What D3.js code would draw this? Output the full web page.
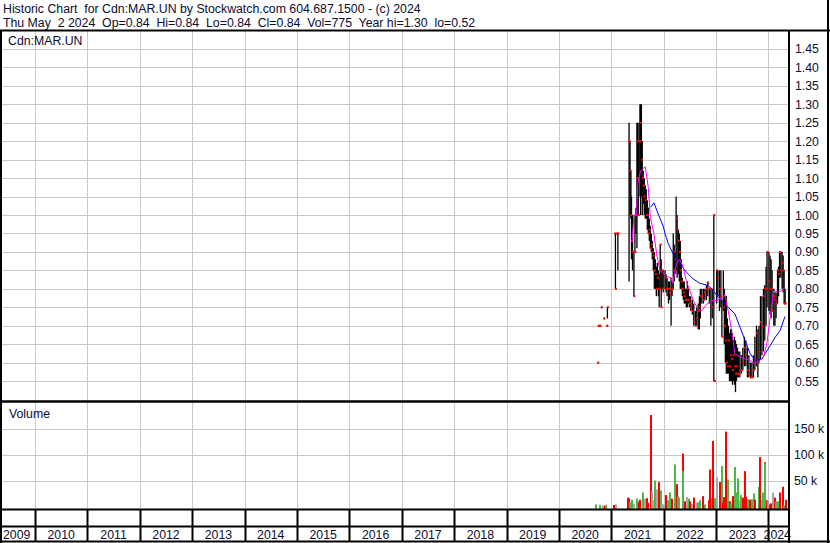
<!DOCTYPE html>
<html><head><meta charset="utf-8">
<script src="https://cdn.jsdelivr.net/npm/d3@7"></script>
<style>
html,body{margin:0;padding:0;background:#fff;}
svg text{font-family:"Liberation Sans",Arial,sans-serif;fill:#0c0c30;white-space:pre;}
</style></head><body>
<svg id="c" width="830" height="543"></svg>
<script>
// ---------- data ----------
const titleLine1 = "Historic Chart  for Cdn:MAR.UN by Stockwatch.com 604.687.1500 - (c) 2024";
const titleLine2 = "Thu May  2 2024  Op=0.84  Hi=0.84  Lo=0.84  Cl=0.84  Vol=775  Year hi=1.30  lo=0.52";
const symbolLabel = "Cdn:MAR.UN";
const volumeLabel = "Volume";
const yearLabels = ["2009","2010","2011","2012","2013","2014","2015","2016","2017","2018","2019","2020","2021","2022","2023","2024"];
const priceTicks = [0.55,0.60,0.65,0.70,0.75,0.80,0.85,0.90,0.95,1.00,1.05,1.10,1.15,1.20,1.25,1.30,1.35,1.40,1.45];
const volumeTicks = [50000,100000,150000];

const barDates = ["2020-09-28","2020-10-02","2020-10-13","2020-10-23","2020-11-10","2020-11-30","2020-12-04",
"2021-01-25","2021-01-29","2021-02-08","2021-02-15",
"2021-05-04","2021-05-11","2021-05-17","2021-05-21","2021-05-28","2021-06-07","2021-06-14","2021-06-21","2021-06-28",
"2021-07-02","2021-07-07","2021-07-12","2021-07-19","2021-07-23","2021-07-29","2021-08-04","2021-08-11","2021-08-18","2021-08-25",
"2021-09-01","2021-09-08","2021-09-15","2021-09-22","2021-09-29","2021-10-06","2021-10-13","2021-10-20","2021-10-27",
"2021-11-03","2021-11-10","2021-11-17","2021-11-24","2021-11-30","2021-12-07","2021-12-14","2021-12-21","2021-12-28",
"2022-01-10","2022-01-17","2022-01-24","2022-02-03","2022-02-10","2022-02-21","2022-02-28","2022-03-08","2022-03-15","2022-03-22","2022-03-28",
"2022-04-04","2022-04-13","2022-04-19","2022-04-26","2022-05-03","2022-05-10","2022-05-17","2022-05-24","2022-05-31",
"2022-06-07","2022-06-14","2022-06-21","2022-06-28","2022-07-08","2022-07-19","2022-07-29","2022-08-09","2022-08-19","2022-08-29",
"2022-09-06","2022-09-13","2022-09-23","2022-10-04","2022-10-14","2022-10-25","2022-11-04","2022-11-15","2022-11-25","2022-12-05","2022-12-16","2022-12-20",
"2023-01-05","2023-01-13","2023-01-24","2023-02-03","2023-02-10","2023-02-20","2023-02-27","2023-03-06","2023-03-13","2023-03-20","2023-03-27",
"2023-04-04","2023-04-11","2023-04-18","2023-04-25","2023-05-02","2023-05-09","2023-05-16","2023-05-23","2023-05-30",
"2023-06-06","2023-06-15","2023-06-26","2023-07-06","2023-07-17","2023-07-27","2023-08-07","2023-08-17","2023-08-28",
"2023-09-07","2023-09-18","2023-09-28","2023-10-09","2023-10-19","2023-10-27","2023-11-06","2023-11-16","2023-11-27",
"2023-12-06","2023-12-15","2023-12-22",
"2024-01-04","2024-01-12","2024-01-19","2024-01-26","2024-02-07","2024-02-15","2024-02-23","2024-03-04","2024-03-11","2024-03-18","2024-03-27",
"2024-04-05","2024-04-12","2024-04-19","2024-04-26"];
const barHigh = [0.60,0.70,0.70,0.75,0.72,0.70,0.75,
0.95,0.95,0.95,0.95,
1.25,1.20,1.12,1.05,1.00,0.90,1.00,1.02,1.25,
1.25,1.20,1.25,1.30,1.30,1.30,1.20,1.12,1.10,1.08,
1.07,1.04,1.02,0.99,0.97,0.95,0.93,0.91,0.90,
0.88,0.86,0.87,0.85,0.84,0.92,0.88,0.85,0.85,
0.85,0.84,0.83,0.82,0.82,0.83,0.82,0.95,0.92,0.90,1.05,
1.00,0.96,0.95,0.93,0.88,0.83,0.82,0.82,0.80,
0.80,0.82,0.80,0.78,0.78,0.77,0.76,0.74,0.75,0.76,
0.78,0.80,0.80,0.80,0.80,0.81,0.82,0.80,0.80,0.80,1.00,0.55,
0.85,0.85,0.85,0.85,0.77,0.85,0.80,0.78,0.78,0.72,0.70,
0.68,0.69,0.69,0.68,0.66,0.67,0.66,0.65,0.64,
0.63,0.63,0.62,0.64,0.67,0.66,0.64,0.62,0.60,
0.60,0.62,0.67,0.70,0.69,0.70,0.78,0.78,0.80,
0.81,0.86,0.90,
0.90,0.89,0.88,0.85,0.80,0.79,0.79,0.85,0.86,0.90,0.90,
0.90,0.89,0.85,0.80];
const barLow = [0.60,0.70,0.70,0.75,0.72,0.70,0.72,
0.95,0.80,0.95,0.85,
0.82,1.00,0.99,0.88,0.85,0.78,0.90,0.95,0.91,
1.00,1.00,1.05,1.10,1.00,1.05,1.00,1.03,1.00,0.99,
0.99,0.96,0.95,0.93,0.91,0.90,0.88,0.85,0.80,
0.80,0.78,0.80,0.78,0.75,0.80,0.75,0.80,0.79,
0.80,0.79,0.78,0.76,0.77,0.70,0.78,0.80,0.82,0.84,0.85,
0.83,0.84,0.82,0.80,0.80,0.78,0.77,0.76,0.76,
0.75,0.75,0.76,0.75,0.74,0.73,0.70,0.70,0.70,0.69,
0.69,0.72,0.76,0.76,0.77,0.77,0.78,0.76,0.70,0.72,0.55,0.55,
0.76,0.78,0.74,0.75,0.67,0.74,0.65,0.60,0.57,0.57,0.57,
0.55,0.55,0.55,0.54,0.55,0.54,0.52,0.55,0.56,
0.56,0.56,0.57,0.58,0.59,0.59,0.56,0.56,0.56,
0.56,0.56,0.58,0.59,0.56,0.60,0.61,0.62,0.63,
0.66,0.70,0.75,
0.74,0.73,0.72,0.74,0.70,0.70,0.72,0.76,0.78,0.83,0.83,
0.80,0.79,0.76,0.76];
const barClose = [0.60,0.70,0.70,0.75,0.72,0.70,0.75,
0.95,0.80,0.95,0.95,
1.20,1.12,1.00,0.93,0.90,0.78,0.90,1.00,1.10,
1.20,1.00,1.20,1.20,1.25,1.15,1.10,1.08,1.05,1.04,
1.00,1.00,0.95,0.96,0.91,0.92,0.90,0.89,0.85,
0.84,0.80,0.83,0.80,0.80,0.92,0.75,0.85,0.80,
0.83,0.80,0.80,0.80,0.79,0.80,0.80,0.85,0.90,0.88,0.99,
0.96,0.93,0.90,0.85,0.82,0.80,0.79,0.78,0.77,
0.77,0.80,0.77,0.76,0.75,0.74,0.71,0.70,0.72,0.74,
0.75,0.78,0.78,0.77,0.79,0.80,0.815,0.80,0.80,0.75,1.00,0.55,
0.85,0.83,0.80,0.78,0.67,0.75,0.70,0.66,0.60,0.59,0.66,
0.59,0.62,0.61,0.58,0.62,0.59,0.57,0.59,0.57,
0.57,0.58,0.58,0.60,0.64,0.62,0.58,0.57,0.56,
0.56,0.58,0.61,0.68,0.60,0.63,0.71,0.70,0.78,
0.80,0.80,0.90,
0.82,0.80,0.80,0.74,0.78,0.77,0.76,0.85,0.84,0.90,0.85,
0.87,0.85,0.76,0.76];

const maShortDates = ["2021-05-25","2021-06-07","2021-06-25","2021-07-04","2021-07-23","2021-08-25","2021-09-15","2021-09-29","2021-10-24","2021-11-12","2021-12-05","2021-12-28",
"2022-02-02","2022-02-21","2022-03-06","2022-03-30","2022-04-23","2022-05-15","2022-06-08","2022-07-01","2022-07-24","2022-08-06","2022-08-29","2022-09-22","2022-10-27","2022-11-30",
"2023-01-01","2023-01-28","2023-02-20","2023-03-03","2023-03-26","2023-04-19","2023-05-12","2023-06-16","2023-07-22","2023-08-26","2023-09-30","2023-11-04","2023-11-27","2023-12-20",
"2024-01-13","2024-02-06","2024-03-11","2024-04-03","2024-04-22"];
const maShort = [0.926,1.00,1.00,1.085,1.12,1.131,1.075,0.995,0.95,0.895,0.85,0.843,
0.832,0.83,0.815,0.87,0.88,0.86,0.82,0.796,0.77,0.76,0.746,0.74,0.758,0.768,
0.768,0.773,0.776,0.785,0.741,0.687,0.624,0.615,0.61,0.606,0.597,0.606,0.615,0.651,
0.723,0.795,0.791,0.795,0.804];

const maLongDates = ["2021-10-01","2021-10-24","2021-11-28","2021-12-28","2022-01-10","2022-02-02","2022-03-07","2022-04-23","2022-06-08","2022-07-24","2022-09-09","2022-11-07","2022-12-12",
"2023-01-16","2023-02-10","2023-03-26","2023-05-12","2023-06-16","2023-07-22","2023-08-26","2023-09-30","2023-11-16","2023-12-08",
"2024-01-13","2024-02-17","2024-03-22","2024-04-25"];
const maLong = [1.021,1.033,0.998,0.97,0.949,0.922,0.895,0.868,0.845,0.827,0.815,0.809,0.795,
0.777,0.768,0.750,0.732,0.696,0.66,0.624,0.606,0.61,0.624,
0.646,0.669,0.687,0.725];

const volDates = ["2020-09-15","2020-10-13","2020-11-02","2020-11-16","2020-11-27","2021-01-20","2021-02-03",
"2021-04-29","2021-05-06","2021-05-14","2021-05-26","2021-06-07","2021-06-28","2021-07-09","2021-07-20","2021-08-09","2021-08-23","2021-09-03","2021-09-15",
"2021-10-07","2021-10-13","2021-10-20","2021-11-01","2021-11-15","2021-11-29","2021-12-13","2021-12-22",
"2022-01-03","2022-01-17","2022-01-31","2022-02-14","2022-02-28","2022-03-18","2022-04-01","2022-04-11","2022-04-19","2022-05-13","2022-05-16","2022-05-27",
"2022-06-10","2022-06-24","2022-07-05","2022-07-15","2022-08-03","2022-08-19","2022-08-30","2022-09-13","2022-10-04","2022-10-18","2022-11-09","2022-11-18",
"2022-12-01","2022-12-09","2022-12-23",
"2023-01-06","2023-01-25","2023-02-08","2023-02-17","2023-02-27","2023-03-14","2023-03-24","2023-04-05","2023-04-13","2023-04-27","2023-05-12","2023-05-23",
"2023-06-05","2023-06-16","2023-06-23","2023-07-06","2023-07-20","2023-07-31","2023-08-10","2023-08-24","2023-09-07","2023-09-19","2023-10-02","2023-10-24",
"2023-11-06","2023-11-16","2023-11-23","2023-12-06","2023-12-08","2023-12-20","2023-12-27",
"2024-01-09","2024-01-18","2024-02-01","2024-02-12","2024-02-22","2024-03-06","2024-03-20","2024-04-08","2024-04-19","2024-04-29"];
const volValues = [4000,3000,2000,1500,3000,3000,4000,
17000,16000,8000,13000,5000,15000,9000,13000,27000,15000,16000,7000,
176000,29000,12000,50000,33000,47000,31000,6000,
4000,22000,12000,27000,15000,81000,43000,20000,17000,102000,68000,10000,
18000,15000,10000,5000,17000,7000,8000,12000,20000,4000,12000,71000,
16000,126000,16000,
56000,47000,78000,7000,18000,144000,52000,10000,6000,20000,76000,27000,
54000,12000,22000,17000,68000,19000,14000,13000,14000,25000,13000,38000,
95000,12000,27000,85000,83000,12000,11000,
4000,6000,27000,17000,10000,10000,27000,38000,2000,13000];
const volDirection = ["u","u","n","d","u","d","n",
"d","d","u","u","n","u","d","d","u","n","d","d",
"d","n","n","u","n","d","u","n",
"n","d","u","u","d","u","d","u","u","d","u","d",
"n","u","d","n","d","n","u","u","d","u","d","d",
"u","d","u",
"n","d","u","d","d","d","u","d","u","d","u","u",
"u","n","u","d","d","d","u","d","u","u","d","u",
"d","n","u","d","u","d","n",
"d","d","n","d","u","u","d","d","u","d"];

// ---------- layout ----------
const svg = d3.select("#c");
const W = 830, H = 543;
const plotL = 1, plotR = 789;
const priceTop = 31, priceBot = 401;
const volTop = 403, volBot = 509;
const rowTop = 510, rowBot = 526, labTop = 527, labBot = 541;
const parse = d3.timeParse("%Y-%m-%d");

const x = d3.scaleTime().domain([new Date(2009,4,2), new Date(2024,4,2)]).range([0, 786]);
const y = d3.scaleLinear().domain([0.5, 1.5]).range([399.5, 30.5]);
const yv = d3.scaleLinear().domain([0, 50000]).range([506.5, 480.5]);

svg.append("rect").attr("width", W).attr("height", H).attr("fill", "#fff");

const grid = "#c8c8c8";
const yearStarts = yearLabels.slice(1).map(s => new Date(+s, 0, 1));

// price grid
const gp = svg.append("g");
gp.selectAll("line.h").data(priceTicks).join("line")
  .attr("x1", plotL).attr("x2", plotR)
  .attr("y1", d => Math.round(y(d)) + 0.5).attr("y2", d => Math.round(y(d)) + 0.5)
  .attr("stroke", grid).attr("stroke-width", 1);
gp.selectAll("line.v").data(yearStarts).join("line")
  .attr("x1", d => Math.round(x(d)) + 0.5).attr("x2", d => Math.round(x(d)) + 0.5)
  .attr("y1", priceTop).attr("y2", priceBot)
  .attr("stroke", grid);

// volume grid
const gv = svg.append("g");
gv.selectAll("line.h").data(volumeTicks).join("line")
  .attr("x1", plotL).attr("x2", plotR)
  .attr("y1", d => Math.round(yv(d)) + 0.5).attr("y2", d => Math.round(yv(d)) + 0.5)
  .attr("stroke", grid);
gv.selectAll("line.v").data(yearStarts).join("line")
  .attr("x1", d => Math.round(x(d)) + 0.5).attr("x2", d => Math.round(x(d)) + 0.5)
  .attr("y1", volTop).attr("y2", volBot)
  .attr("stroke", grid);

// year separators in bottom rows
const gy = svg.append("g");
gy.selectAll("line").data(yearStarts).join("line")
  .attr("x1", d => Math.round(x(d)) + 0.5).attr("x2", d => Math.round(x(d)) + 0.5)
  .attr("y1", rowTop).attr("y2", labBot)
  .attr("stroke", "#000").attr("stroke-width", 2);

// year labels
const yearBounds = [new Date(2009,4,2)].concat(yearStarts).concat([new Date(2024,4,2)]);
gy.selectAll("text").data(yearLabels).join("text")
  .attr("x", (d, i) => i === 0 ? 3 : (x(yearBounds[i]) + Math.min(x(yearBounds[i+1]), 788)) / 2)
  .attr("text-anchor", (d, i) => i === 0 ? "start" : "middle")
  .attr("y", 539).attr("font-size", 12.3)
  .text(d => d);

// volume bars
const volColors = {u: "#4cb84c", d: "#ff0000", n: "#a8a8a8"};
const vdata = volDates.map((d, i) => ({date: parse(d), v: volValues[i], dir: volDirection[i]}));
svg.append("g").selectAll("rect").data(vdata).join("rect")
  .attr("x", d => Math.round(x(d.date)) - 1).attr("width", 2)
  .attr("y", d => yv(d.v)).attr("height", d => volBot - yv(d.v))
  .attr("fill", d => volColors[d.dir]);

// price bars
const bars = barDates.map((d, i) => ({date: parse(d), h: barHigh[i], l: barLow[i], c: barClose[i]}));
const gb = svg.append("g");
gb.selectAll("rect").data(bars).join("rect")
  .attr("x", d => x(d.date) - 0.65).attr("width", 1.3)
  .attr("y", d => y(d.h)).attr("height", d => Math.max(1, y(d.l) - y(d.h)))
  .attr("fill", "#000");

// moving averages
const line = d3.line().x(d => x(d.date)).y(d => y(d.v));
svg.append("path")
  .datum(maLongDates.map((d, i) => ({date: parse(d), v: maLong[i]})))
  .attr("d", line).attr("fill", "none").attr("stroke", "#0000ff").attr("stroke-width", 1);
svg.append("path")
  .datum(maShortDates.map((d, i) => ({date: parse(d), v: maShort[i]})))
  .attr("d", line).attr("fill", "none").attr("stroke", "#ff00ff").attr("stroke-width", 1);

// close marks
gb.append("g").selectAll("rect").data(bars).join("rect")
  .attr("x", d => x(d.date) - 0.5).attr("width", 2)
  .attr("y", d => y(d.c) - 1).attr("height", 2)
  .attr("fill", "#ff0000");

// axis labels
svg.append("g").selectAll("text").data(priceTicks).join("text")
  .attr("x", 795).attr("y", d => y(d) + 4.5).attr("font-size", 12.3)
  .text(d => d.toFixed(2));
svg.append("g").selectAll("text").data(volumeTicks).join("text")
  .attr("x", 794).attr("y", d => yv(d) + 4.5).attr("font-size", 12.3)
  .text(d => (d / 1000) + " k");

// panel labels
svg.append("text").attr("x", 8).attr("y", 45).attr("font-size", 12.3).text(symbolLabel);
svg.append("text").attr("x", 9).attr("y", 418).attr("font-size", 12.3).text(volumeLabel);

// header
svg.append("text").attr("x", 3).attr("y", 13).attr("font-size", 12.3).text(titleLine1);
svg.append("text").attr("x", 3).attr("y", 27).attr("font-size", 12.3).text(titleLine2);

// frame lines
const frame = svg.append("g").attr("stroke", "#000").attr("fill", "none");
frame.append("line").attr("x1", 0).attr("x2", W).attr("y1", 30.5).attr("y2", 30.5).attr("stroke-width", 2);
frame.append("line").attr("x1", plotR).attr("x2", plotR).attr("y1", 30).attr("y2", H).attr("stroke-width", 2);
frame.append("line").attr("x1", 0).attr("x2", plotR).attr("y1", 401.5).attr("y2", 401.5).attr("stroke-width", 2.5);
frame.append("line").attr("x1", 0).attr("x2", plotR).attr("y1", 509.5).attr("y2", 509.5).attr("stroke-width", 2);
frame.append("line").attr("x1", 0).attr("x2", plotR).attr("y1", 526.5).attr("y2", 526.5).attr("stroke-width", 2);
frame.append("line").attr("x1", 0).attr("x2", W).attr("y1", 541.5).attr("y2", 541.5).attr("stroke-width", 2);
frame.append("line").attr("x1", 1).attr("x2", 1).attr("y1", 30).attr("y2", H).attr("stroke-width", 2);
frame.append("line").attr("x1", 828).attr("x2", 828).attr("y1", 0).attr("y2", H).attr("stroke-width", 2);
</script>
</body></html>
